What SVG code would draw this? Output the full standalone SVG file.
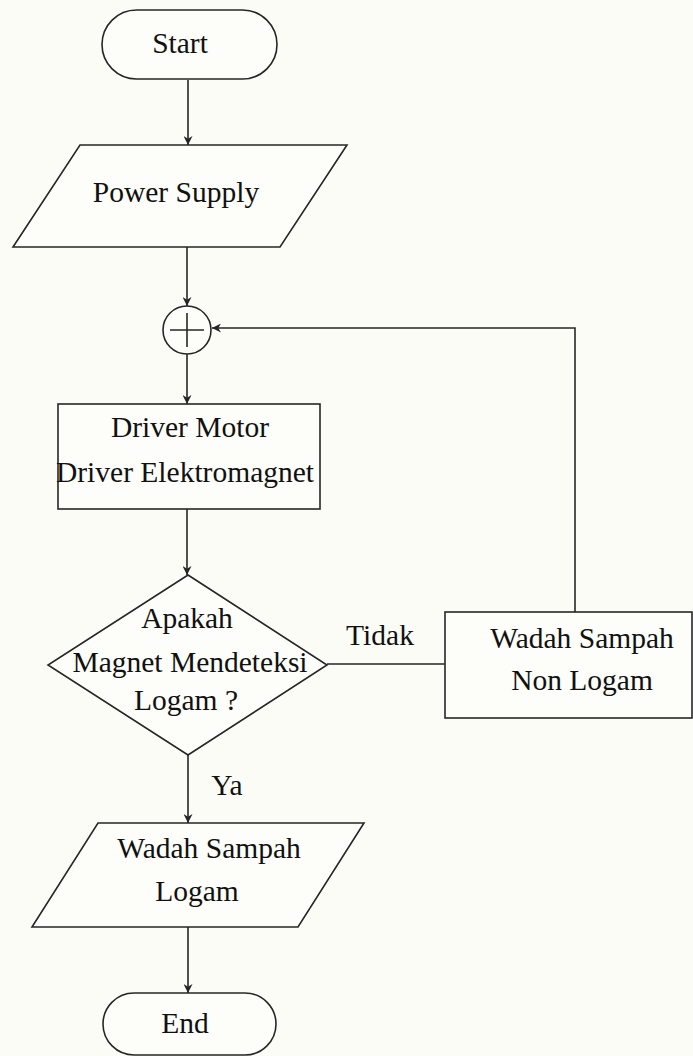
<svg xmlns="http://www.w3.org/2000/svg" width="693" height="1056" viewBox="0 0 693 1056">
<defs>
<style>
.s{fill:#fdfdf9;stroke:#262626;stroke-width:1.6}
.c{fill:none;stroke:#262626;stroke-width:1.6}
.t{font-size:29.5px;fill:#111;text-anchor:middle}
</style>
<marker id="ah" viewBox="0 0 10 10" refX="10" refY="5" markerWidth="9" markerHeight="9" markerUnits="userSpaceOnUse" orient="auto">
<path d="M0,0 L10,5 L0,10 L3,5 Z" fill="#262626"/>
</marker>
</defs>
<rect width="693" height="1056" fill="#fcfcf7"/>
<g font-family="'Liberation Serif', 'Times New Roman', 'DejaVu Serif', serif">
<g id="connectors">
<line class="c" x1="188" y1="80" x2="188" y2="145" marker-end="url(#ah)"/>
<line class="c" x1="187" y1="247" x2="187" y2="306" marker-end="url(#ah)"/>
<line class="c" x1="187" y1="354" x2="187" y2="404" marker-end="url(#ah)"/>
<line class="c" x1="187" y1="509" x2="187" y2="575" marker-end="url(#ah)"/>
<polyline class="c" points="575,612 575,328 212,328" marker-end="url(#ah)"/>
<line class="c" x1="327" y1="664" x2="445" y2="664"/>
<line class="c" x1="188" y1="755" x2="188" y2="823" marker-end="url(#ah)"/>
<line class="c" x1="188" y1="927" x2="188" y2="993" marker-end="url(#ah)"/>
<text class="t" x="380" y="645">Tidak</text>
<text class="t" x="227" y="795">Ya</text>
</g>
<g id="start">
<rect class="s" x="102" y="10" width="175" height="69" rx="34.5"/>
<text class="t" x="180" y="53">Start</text>
</g>
<g id="power">
<polygon class="s" points="80,145 347,145 280,247 13,247"/>
<text class="t" x="176" y="202">Power Supply</text>
</g>
<g id="junction">
<circle class="s" cx="187" cy="330" r="24"/>
<line class="c" x1="170" y1="330" x2="204" y2="330"/>
<line class="c" x1="187" y1="313" x2="187" y2="347"/>
</g>
<g id="driver">
<rect class="s" x="58" y="404" width="262" height="105"/>
<text class="t" x="190" y="437">Driver Motor</text>
<text class="t" x="185" y="482">Driver Elektromagnet</text>
</g>
<g id="decision">
<polygon class="s" points="188,575 327,665 188,755 48,665"/>
<text class="t" x="187" y="628">Apakah</text>
<text class="t" x="190" y="672">Magnet Mendeteksi</text>
<text class="t" x="186" y="710">Logam ?</text>
</g>
<g id="nonlogam">
<rect class="s" x="445" y="612" width="247" height="106"/>
<text class="t" x="582" y="648">Wadah Sampah</text>
<text class="t" x="582" y="690">Non Logam</text>
</g>
<g id="logam">
<polygon class="s" points="98,823 364,823 298,927 32,927"/>
<text class="t" x="209" y="858">Wadah Sampah</text>
<text class="t" x="197" y="901">Logam</text>
</g>
<g id="end">
<rect class="s" x="103" y="993" width="173" height="62" rx="31"/>
<text class="t" x="185" y="1033">End</text>
</g>
</g>
</svg>
